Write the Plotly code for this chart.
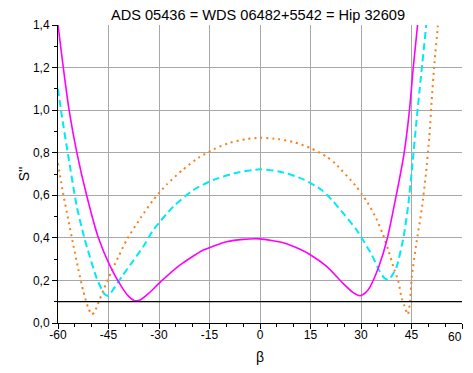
import plotly.graph_objects as go

# Magenta (solid)
beta_m = [-60, -58.4, -56.7, -54.4, -51.5, -48.0, -44.6, -41.1, -39.0, -37.3, -35.6, -33.0,
          -29.7, -23.8, -16.8, -9.9, -5.0, 0.0, 6.9, 11.9, 14.8, 19.8, 24.7, 27.5, 29.7,
          31.5, 32.7, 35.3, 37.7, 40.6, 42.8, 44.4, 45.5, 46.8, 47.2]
s_m = [1.40, 1.196, 1.0, 0.80, 0.60, 0.40, 0.27, 0.17, 0.125, 0.105, 0.108, 0.14,
       0.191, 0.272, 0.343, 0.382, 0.393, 0.395, 0.377, 0.346, 0.322, 0.266, 0.186, 0.145, 0.128,
       0.145, 0.17, 0.265, 0.39, 0.61, 0.797, 1.0, 1.196, 1.40, 1.47]

# Cyan (dashed)
beta_c = [-60, -58.9, -56.9, -54.4, -52.0, -48.5, -46.2, -45.0, -43.5, -41.1, -38.0, -34.7,
          -31.7, -25.8, -19.8, -13.9, -6.9, 0.0, 6.0, 12.9, 18.3, 21.8, 25.0, 28.7, 33.2,
          35.6, 37.0, 38.1, 39.3, 40.6, 42.6, 44.0, 45.3, 46.5, 47.7, 49.3, 49.6]
s_c = [1.10, 0.977, 0.78, 0.546, 0.39, 0.21, 0.136, 0.128, 0.16, 0.217, 0.285, 0.358,
       0.437, 0.546, 0.625, 0.672, 0.706, 0.722, 0.711, 0.675, 0.625, 0.57, 0.51, 0.437, 0.32,
       0.241, 0.21, 0.203, 0.225, 0.265, 0.40, 0.55, 0.75, 0.953, 1.14, 1.39, 1.45]

# Orange (dotted)
beta_o = [-60, -58.5, -57.0, -55.5, -54.0, -52.5, -51.0, -50.0, -49.2, -48.2, -46.3, -44.3,
          -42.1, -39.6, -35.2, -31.7, -27.7, -23.0, -18.3, -13.7, -8.9, -4.0, 0.0, 5.4, 10.2,
          15.0, 19.8, 22.3, 28.5, 30.2, 31.9, 34.5, 36.4, 38.1, 39.6, 41.1, 42.1, 42.9, 43.9,
          44.5, 45.1, 46.5, 48.0, 49.3, 50.3, 51.0, 51.8, 52.8, 53.1]
s_o = [0.75, 0.61, 0.49, 0.37, 0.255, 0.15, 0.07, 0.04, 0.05, 0.088, 0.163, 0.236,
       0.31, 0.39, 0.50, 0.578, 0.651, 0.719, 0.776, 0.817, 0.847, 0.864, 0.870, 0.864, 0.849,
       0.822, 0.781, 0.75, 0.643, 0.606, 0.567, 0.492, 0.421, 0.343, 0.265, 0.194, 0.116, 0.08, 0.04,
       0.09, 0.217, 0.38, 0.53, 0.703, 0.875, 1.047, 1.22, 1.39, 1.45]

x_ticks = [-60, -45, -30, -15, 0, 15, 30, 45, 60]
x_ticktext = ["-60", "-45", "-30", "-15", "0", "15", "30", "45", ""]
x_last_label = "60"
x_unit = "0"
y_ticks = [0.0, 0.2, 0.4, 0.6, 0.8, 1.0, 1.2, 1.4]
ref_level = 0.1

fig = go.Figure()
fig.add_trace(go.Scatter(x=beta_o, y=s_o, mode="lines",
                         line=dict(color="#F5821F", width=2, dash="2px,4px", shape="spline", smoothing=0.6)))
fig.add_trace(go.Scatter(x=beta_c, y=s_c, mode="lines",
                         line=dict(color="#00EAF2", width=2, dash="7px,4px", shape="spline", smoothing=0.6)))
fig.add_trace(go.Scatter(x=beta_m, y=s_m, mode="lines",
                         line=dict(color="#FF00FF", width=1.6, shape="spline", smoothing=0.6)))
fig.add_trace(go.Scatter(x=[-60, 60], y=[ref_level, ref_level], mode="lines",
                         line=dict(color="black", width=1.3)))

# last x tick label with its degree-like superscript
fig.add_annotation(text=x_last_label, xref="paper", yref="paper", x=1, y=0,
                   xshift=-7, yshift=-14, showarrow=False, font=dict(size=12),
                   xanchor="center", yanchor="middle")
fig.add_annotation(text=x_unit, xref="paper", yref="paper", x=1, y=0,
                   xshift=5, yshift=-8, showarrow=False, font=dict(size=9),
                   xanchor="center", yanchor="middle")

# The page body has an 8px margin; the figure (465x357) sits at (8, 8) and fits the 473x373 window
W, H = 465, 357
fig.update_layout(
    width=W, height=H,
    margin=dict(l=50, r=11, t=17, b=42),
    paper_bgcolor="white", plot_bgcolor="white",
    showlegend=False,
    separators=", ",
    font=dict(family="Liberation Sans, Arial, sans-serif", size=12, color="black"),
    title=dict(text="ADS 05436 = WDS 06482+5542 = Hip 32609", x=250 / W, xanchor="center",
               y=1 - 7 / H, yref="container", yanchor="middle", font=dict(size=14.6)),
)
fig.update_xaxes(
    range=[-60, 60], tickvals=x_ticks, ticktext=x_ticktext, automargin=False,
    showgrid=True, gridcolor="#A8A8A8", gridwidth=1,
    showline=True, linecolor="black", linewidth=1,
    ticks="outside", ticklen=5, tickcolor="black", ticklabelstandoff=-4,
    minor=dict(dtick=5, ticks="outside", ticklen=3, tickcolor="black", showgrid=False),
    zeroline=False,
    title=dict(text="β", font=dict(size=14), standoff=10),
)
fig.update_yaxes(
    range=[0, 1.4], tickvals=y_ticks, tickformat=".1f", automargin=False,
    showgrid=True, gridcolor="#A8A8A8", gridwidth=1,
    showline=True, linecolor="black", linewidth=1,
    ticks="outside", ticklen=5, tickcolor="black",
    minor=dict(dtick=0.1, ticks="outside", ticklen=3, tickcolor="black", showgrid=False),
    zeroline=False,
    title=dict(text="S''", font=dict(size=14), standoff=0),
)
fig.write_html("out.html")
